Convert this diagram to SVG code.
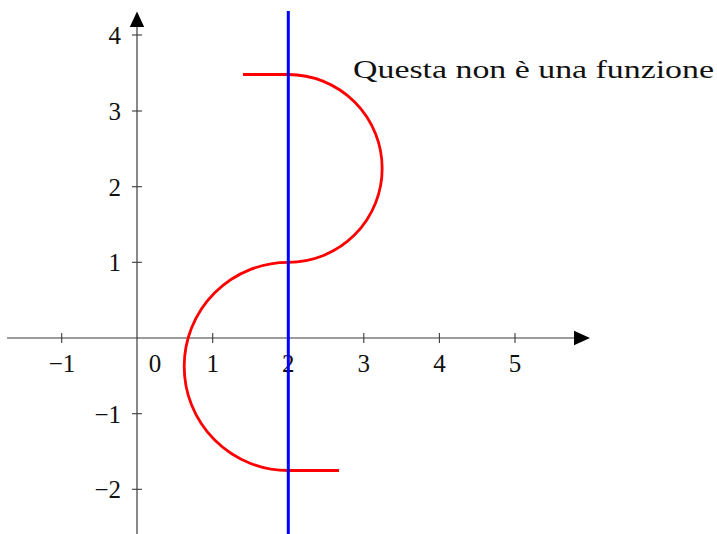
<svg xmlns="http://www.w3.org/2000/svg" width="717" height="534" viewBox="0 0 717 534">
<style>
.ax{stroke:#3a3a3a;stroke-width:1.2;fill:none}
.tk{stroke:#3a3a3a;stroke-width:1.1}
.t{font-family:"Liberation Serif","DejaVu Serif",serif;font-size:25px;fill:#111}
.xl{text-anchor:middle}
.yl{text-anchor:end}
</style>
<rect width="717" height="534" fill="#fff"/>
<g id="axes">
<line class="ax" x1="7" y1="338" x2="576" y2="338"/>
<polygon points="590,338 574,330.8 574,345.2" fill="#000"/>
<line class="ax" x1="137" y1="534" x2="137" y2="25"/>
<polygon points="137,11.5 129.8,27 144.2,27" fill="#000"/>
<g class="tk">
<line x1="61.7" y1="333" x2="61.7" y2="343"/>
<line x1="212.7" y1="333" x2="212.7" y2="343"/>
<line x1="288.3" y1="333" x2="288.3" y2="343"/>
<line x1="363.8" y1="333" x2="363.8" y2="343"/>
<line x1="439.4" y1="333" x2="439.4" y2="343"/>
<line x1="515" y1="333" x2="515" y2="343"/>
<line x1="132" y1="35" x2="142" y2="35"/>
<line x1="132" y1="111" x2="142" y2="111"/>
<line x1="132" y1="186.7" x2="142" y2="186.7"/>
<line x1="132" y1="262.3" x2="142" y2="262.3"/>
<line x1="132" y1="413.7" x2="142" y2="413.7"/>
<line x1="132" y1="489.3" x2="142" y2="489.3"/>
</g>
<g class="t xl">
<text x="62" y="372">−1</text>
<text x="155" y="372">0</text>
<text x="212.7" y="372">1</text>
<text x="288.3" y="372">2</text>
<text x="363.8" y="372">3</text>
<text x="439.4" y="372">4</text>
<text x="515" y="372">5</text>
</g>
<g class="t yl">
<text x="121" y="44">4</text>
<text x="121" y="120">3</text>
<text x="121" y="195.5">2</text>
<text x="121" y="271">1</text>
<text x="121" y="422.5">−1</text>
<text x="121" y="498">−2</text>
</g>
</g>
<g id="curve">
<path d="M243 74.5 L288.3 74.5 A93.9 93.9 0 0 1 288.3 262.3 A104.1 104.1 0 0 0 288.3 470.5 L339 470.5" fill="none" stroke="#f00" stroke-width="2.8"/>
</g>
<g id="line">
<line x1="288.3" y1="11" x2="288.3" y2="534" stroke="#00f" stroke-width="3"/>
</g>
<g id="label">
<text class="t" x="353" y="78" font-size="29" textLength="361" lengthAdjust="spacingAndGlyphs">Questa non è una funzione</text>
</g>
</svg>
